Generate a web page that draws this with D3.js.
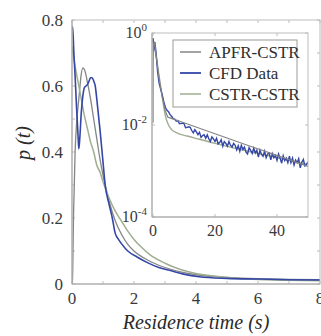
<!DOCTYPE html>
<html><head><meta charset="utf-8">
<script src="https://cdn.jsdelivr.net/npm/d3@7/dist/d3.min.js"></script>
<style>
html,body{margin:0;padding:0;background:#fff;}
svg{display:block;}
</style></head><body>
<svg id="c" width="321" height="336"></svg>
<script>
// ---- Main plot data (t in s, p(t)) ----
const apfrT = [0, 0.015, 0.05, 0.1, 0.16, 0.23, 0.29, 0.35, 0.42, 0.5, 0.6, 0.7, 0.8, 0.9, 1.0, 1.07, 1.2, 1.4, 1.6, 1.8, 2.0, 2.45, 3, 3.5, 4, 5, 6, 7, 8];
const apfrP = [0, 0.012, 0.21, 0.40, 0.50, 0.57, 0.63, 0.655, 0.645, 0.61, 0.56, 0.50, 0.44, 0.38, 0.33, 0.30, 0.25, 0.19, 0.15, 0.12, 0.10, 0.072, 0.05, 0.037, 0.028, 0.02, 0.016, 0.014, 0.013];
const cfdT = [0, 0.02, 0.06, 0.1, 0.15, 0.2, 0.22, 0.25, 0.3, 0.35, 0.4, 0.45, 0.5, 0.55, 0.6, 0.65, 0.7, 0.75, 0.8, 0.9, 1.0, 1.07, 1.2, 1.3, 1.39, 1.5, 1.7, 1.8, 2.1, 2.45, 2.8, 3.2, 3.6, 4.1, 5, 6, 7, 8];
const cfdP = [0.77, 0.78, 0.70, 0.63, 0.53, 0.44, 0.41, 0.44, 0.52, 0.57, 0.595, 0.60, 0.605, 0.615, 0.625, 0.625, 0.615, 0.60, 0.56, 0.47, 0.37, 0.30, 0.24, 0.20, 0.155, 0.135, 0.11, 0.10, 0.082, 0.064, 0.05, 0.04, 0.03, 0.022, 0.017, 0.015, 0.013, 0.012];
const cstrT = [0, 0.1, 0.2, 0.3, 0.4, 0.5, 0.6, 0.7, 0.8, 0.9, 1.0, 1.2, 1.4, 1.6, 1.8, 2.0, 2.2, 2.5, 3.0, 3.5, 4, 4.5, 5, 6, 7, 8];
const cstrP = [0.72, 0.66, 0.61, 0.56, 0.51, 0.47, 0.43, 0.40, 0.36, 0.34, 0.31, 0.26, 0.22, 0.19, 0.16, 0.135, 0.115, 0.09, 0.063, 0.044, 0.032, 0.025, 0.02, 0.014, 0.011, 0.01];

// ---- Inset data (t in s, log10 p) ----
const apfrInT = [0.02, 0.05, 0.1, 0.2, 0.35, 0.6, 1, 1.5, 2, 3, 4, 4.8, 10, 20, 30, 40, 50];
const apfrInL = [-1.95, -0.70, -0.39, -0.27, -0.18, -0.25, -0.48, -0.75, -1.0, -1.4, -1.7, -1.83, -1.95, -2.19, -2.43, -2.66, -2.9];
const cstrInT = [0, 0.5, 1, 1.5, 2, 3, 4, 5, 6, 8, 11, 15, 20, 30, 40, 50];
const cstrInL = [-0.14, -0.33, -0.5, -0.72, -0.95, -1.4, -1.8, -2.0, -2.1, -2.18, -2.24, -2.31, -2.4, -2.56, -2.71, -2.86];
const cfdInHeadT = [0, 0.22, 0.6, 1.0, 1.5, 2, 3, 3.5];
const cfdInHeadL = [-0.11, -0.39, -0.20, -0.44, -0.85, -1.1, -1.35, -1.5];
// noisy tail, sampled every 0.5 s from t = 4 to 50
const cfdInTailStart = 4, cfdInTailStep = 0.5;
const cfdInTailL = [-1.62,-1.68,-1.71,-1.775,-1.81,-1.86,-1.87,-1.915,-1.905,-1.97,
  -1.97,-1.96,-1.97,-2.06,-2.05,-2.04,-2.05,-2.12,-2.17,-2.10,
  -2.15,-2.21,-2.16,-2.27,-2.23,-2.21,-2.29,-2.215,-2.30,-2.36,
  -2.26,-2.30,-2.36,-2.29,-2.41,-2.38,-2.32,-2.46,-2.36,-2.40,
  -2.46,-2.36,-2.44,-2.48,-2.40,-2.44,-2.54,-2.45,-2.57,-2.44,
  -2.53,-2.48,-2.59,-2.63,-2.49,-2.55,-2.62,-2.505,-2.61,-2.55,
  -2.70,-2.55,-2.64,-2.68,-2.57,-2.71,-2.63,-2.61,-2.76,-2.62,
  -2.71,-2.66,-2.77,-2.63,-2.72,-2.83,-2.67,-2.775,-2.72,-2.82,
  -2.68,-2.82,-2.72,-2.87,-2.76,-2.82,-2.73,-2.93,-2.81,-2.75,
  -2.89,-2.86,-2.80];

// ---- Ticks / labels ----
const mainXTicks = [0, 2, 4, 6, 8];
const mainYTicks = [0, 0.2, 0.4, 0.6, 0.8];
const insetXTicks = [0, 20, 40];
const insetYExp = [0, -2, -4];
const legendNames = ["APFR-CSTR", "CFD Data", "CSTR-CSTR"];
const colors = {apfr: "#858585", cfd: "#3447a6", cstr: "#9fae90"};

const svg = d3.select("#c");
const x = d3.scaleLinear().domain([0, 8]).range([72, 320]);
const y = d3.scaleLinear().domain([0, 0.8]).range([284, 20]);
const axisCol = "#bdbdbd", textCol = "#3a3a3a";

const defs = svg.append("defs");
defs.append("clipPath").attr("id", "mclip").append("rect").attr("x", 72).attr("y", 20).attr("width", 248).attr("height", 264);

// main frame ticks
const g = svg.append("g");
const minorX = d3.range(0, 9, 1), minorY = d3.range(0, 0.81, 0.1);
minorX.forEach(t => {
  g.append("line").attr("x1", x(t)).attr("x2", x(t)).attr("y1", 284).attr("y2", 281).attr("stroke", axisCol);
  g.append("line").attr("x1", x(t)).attr("x2", x(t)).attr("y1", 20).attr("y2", 23).attr("stroke", axisCol);
});
minorY.forEach(v => {
  g.append("line").attr("x1", 72).attr("x2", 75).attr("y1", y(v)).attr("y2", y(v)).attr("stroke", axisCol);
  g.append("line").attr("x1", 320).attr("x2", 317).attr("y1", y(v)).attr("y2", y(v)).attr("stroke", axisCol);
});

// curves in main plot
const line = d3.line().x(d => x(d[0])).y(d => y(d[1])).curve(d3.curveMonotoneX);
const cg = svg.append("g").attr("clip-path", "url(#mclip)");
function zip(a, b) { return a.map((v, i) => [v, b[i]]); }
cg.append("path").attr("d", line(zip(apfrT, apfrP))).attr("fill", "none").attr("stroke", colors.apfr).attr("stroke-width", 1.3);
cg.append("path").attr("d", line(zip(cstrT, cstrP))).attr("fill", "none").attr("stroke", colors.cstr).attr("stroke-width", 1.5);
cg.append("path").attr("d", line(zip(cfdT, cfdP))).attr("fill", "none").attr("stroke", colors.cfd).attr("stroke-width", 1.6);

// main frame box
svg.append("rect").attr("x", 72).attr("y", 20).attr("width", 248).attr("height", 264).attr("fill", "none").attr("stroke", axisCol).attr("stroke-width", 1);
svg.append("line").attr("x1", 72).attr("x2", 72).attr("y1", 20).attr("y2", 284).attr("stroke", "#a8a8a8");
svg.append("line").attr("x1", 72).attr("x2", 320).attr("y1", 284).attr("y2", 284).attr("stroke", "#a8a8a8");

// main tick labels
mainXTicks.forEach(t => svg.append("text").attr("x", x(t)).attr("y", 304).attr("text-anchor", "middle").attr("font-size", 17).attr("fill", textCol).text(t));
mainYTicks.forEach(v => svg.append("text").attr("x", 63).attr("y", y(v) + 6).attr("text-anchor", "end").attr("font-size", 17).attr("fill", textCol).text(v === 0 ? "0" : d3.format(".1f")(v)));

// axis titles
svg.append("text").attr("x", 196).attr("y", 329).attr("text-anchor", "middle").attr("font-size", 20).attr("font-style", "italic").attr("fill", "#2a2a2a").text("Residence time (s)");
svg.append("text").attr("transform", "translate(30,143) rotate(-90)").attr("text-anchor", "middle").attr("font-size", 20).attr("font-style", "italic").attr("fill", "#2a2a2a").text("p (t)");

// ---- Inset ----
const xi = d3.scaleLinear().domain([0, 50]).range([153, 308]);
const yi = d3.scaleLog().domain([1e-4, 1]).range([217, 33]);
svg.append("rect").attr("x", 152).attr("y", 33).attr("width", 156).attr("height", 184).attr("fill", "#fff");
defs.append("clipPath").attr("id", "iclip").append("rect").attr("x", 152).attr("y", 33).attr("width", 156).attr("height", 184);
insetXTicks.forEach(t => {
  svg.append("line").attr("x1", xi(t)).attr("x2", xi(t)).attr("y1", 217).attr("y2", 214).attr("stroke", axisCol);
  svg.append("line").attr("x1", xi(t)).attr("x2", xi(t)).attr("y1", 33).attr("y2", 36).attr("stroke", axisCol);
});
insetYExp.forEach(e => {
  svg.append("line").attr("x1", 152).attr("x2", 155).attr("y1", yi(Math.pow(10, e))).attr("y2", yi(Math.pow(10, e))).attr("stroke", axisCol);
  svg.append("line").attr("x1", 308).attr("x2", 305).attr("y1", yi(Math.pow(10, e))).attr("y2", yi(Math.pow(10, e))).attr("stroke", axisCol);
});
const li = d3.line().x(d => xi(d[0])).y(d => yi(Math.pow(10, d[1])));
const ig = svg.append("g").attr("clip-path", "url(#iclip)");
const cfdInTail = cfdInTailL.map((v, i) => [cfdInTailStart + i * cfdInTailStep, v]);
const cfdIn = zip(cfdInHeadT, cfdInHeadL).concat(cfdInTail);
ig.append("path").attr("d", li.curve(d3.curveMonotoneX)(zip(cstrInT, cstrInL))).attr("fill", "none").attr("stroke", colors.cstr).attr("stroke-width", 1.4);
ig.append("path").attr("d", li.curve(d3.curveLinear)(cfdIn)).attr("fill", "none").attr("stroke", colors.cfd).attr("stroke-width", 1.4);
ig.append("path").attr("d", li.curve(d3.curveLinear)(zip(apfrInT, apfrInL))).attr("fill", "none").attr("stroke", colors.apfr).attr("stroke-width", 1.2);
svg.append("rect").attr("x", 152).attr("y", 33).attr("width", 156).attr("height", 184).attr("fill", "none").attr("stroke", axisCol);
svg.append("line").attr("x1", 152).attr("x2", 152).attr("y1", 33).attr("y2", 217).attr("stroke", "#a8a8a8");
svg.append("line").attr("x1", 152).attr("x2", 308).attr("y1", 217).attr("y2", 217).attr("stroke", "#a8a8a8");

insetXTicks.forEach(t => svg.append("text").attr("x", xi(t)).attr("y", 236).attr("text-anchor", "middle").attr("font-size", 16).attr("fill", textCol).text(t));
insetYExp.forEach(e => {
  const tx = svg.append("text").attr("x", 147).attr("y", yi(Math.pow(10, e)) + 5).attr("text-anchor", "end").attr("font-size", 16).attr("fill", textCol);
  tx.append("tspan").text("10");
  tx.append("tspan").attr("dy", -7).attr("font-size", 11).text(e);
});

// legend
const lg = svg.append("g");
lg.append("rect").attr("x", 173).attr("y", 40).attr("width", 124).attr("height", 67).attr("fill", "#fff").attr("stroke", "#9a9a9a");
const legCols = [colors.apfr, colors.cfd, colors.cstr];
legendNames.forEach((n, i) => {
  const yy = 52 + i * 21;
  lg.append("line").attr("x1", 180).attr("x2", 201).attr("y1", yy).attr("y2", yy).attr("stroke", legCols[i]).attr("stroke-width", i === 1 ? 1.8 : 1.5);
  lg.append("text").attr("x", 209).attr("y", yy + 5.5).attr("font-size", 17).attr("fill", "#2e2e2e").text(n);
});

svg.selectAll("text").style("font-family", "'Liberation Serif'");
</script></body></html>
